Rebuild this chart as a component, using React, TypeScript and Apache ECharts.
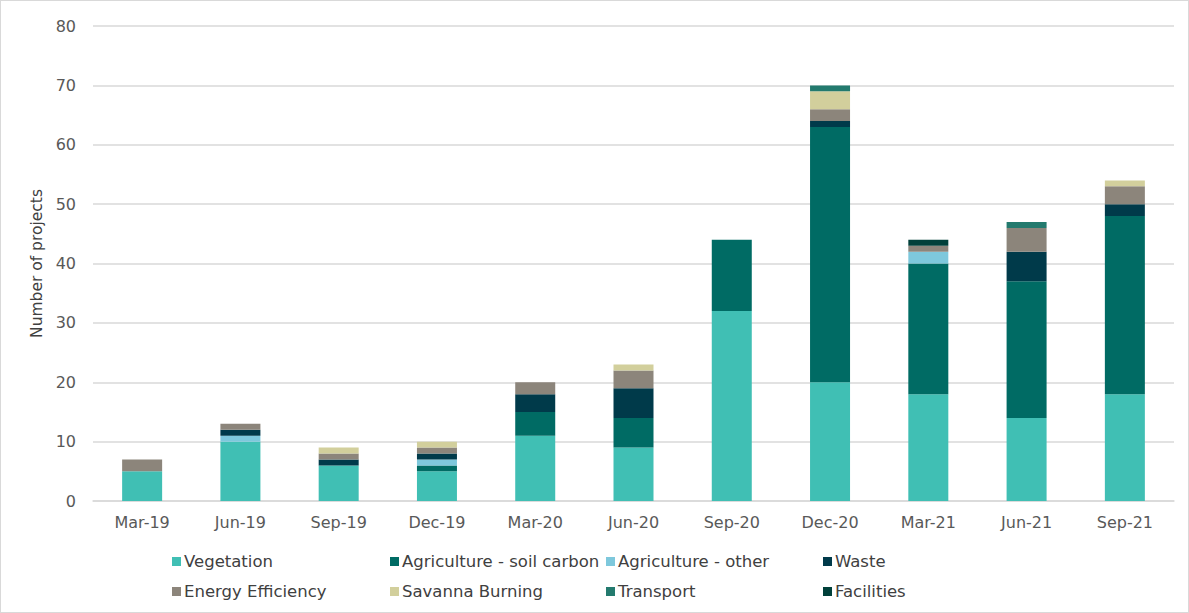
import React, { useEffect, useRef } from "react";
import * as echarts from "echarts";

const categories = ["Mar-19", "Jun-19", "Sep-19", "Dec-19", "Mar-20", "Jun-20", "Sep-20", "Dec-20", "Mar-21", "Jun-21", "Sep-21"];
const vegetation = [5, 10, 6, 5, 11, 9, 32, 20, 18, 14, 18];
const agSoil = [0, 0, 0, 1, 4, 5, 12, 43, 22, 23, 30];
const agOther = [0, 1, 0, 1, 0, 0, 0, 0, 2, 0, 0];
const waste = [0, 1, 1, 1, 3, 5, 0, 1, 0, 5, 2];
const energyEff = [2, 1, 1, 1, 2, 3, 0, 2, 1, 4, 3];
const savanna = [0, 0, 1, 1, 0, 1, 0, 3, 0, 0, 1];
const transport = [0, 0, 0, 0, 0, 0, 0, 1, 0, 1, 0];
const facilities = [0, 0, 0, 0, 0, 0, 0, 0, 1, 0, 0];
const yTicks = [0, 10, 20, 30, 40, 50, 60, 70, 80];

const seriesDefs = [
  { name: "Vegetation", data: vegetation, color: "#40BFB4" },
  { name: "Agriculture - soil carbon", data: agSoil, color: "#006B64" },
  { name: "Agriculture - other", data: agOther, color: "#7EC8DC" },
  { name: "Waste", data: waste, color: "#003A4A" },
  { name: "Energy Efficiency", data: energyEff, color: "#8C857B" },
  { name: "Savanna Burning", data: savanna, color: "#D2CF9C" },
  { name: "Transport", data: transport, color: "#237A6E" },
  { name: "Facilities", data: facilities, color: "#00403A" },
];

const legendPos = [
  [166, 547], [384, 547], [600, 547], [817, 547],
  [166, 577], [384, 577], [600, 577], [817, 577],
];

export default function App() {
  const ref = useRef<HTMLDivElement>(null);
  useEffect(() => {
    const chart = echarts.init(ref.current!, undefined, { renderer: "svg" });
    const font = "DejaVu Sans";
    chart.setOption({
      animation: false,
      textStyle: { fontFamily: font },
      grid: { left: 92, right: 14, top: 25, bottom: 111 },
      legend: seriesDefs.map((s, i) => ({
        data: [s.name],
        left: legendPos[i][0],
        top: legendPos[i][1],
        itemWidth: 9,
        itemHeight: 9,
        icon: "rect",
        itemGap: 4,
        textStyle: { fontFamily: font, fontSize: 16.5, color: "#404040", padding: [0, 0, 0, -2] },
      })),
      xAxis: {
        type: "category",
        data: categories,
        axisLine: { lineStyle: { color: "#d9d9d9", width: 1.5 } },
        axisTick: { show: false },
        axisLabel: { color: "#595959", fontSize: 16, fontFamily: font, margin: 13 },
      },
      yAxis: {
        type: "value",
        min: 0,
        max: 80,
        interval: 10,
        name: "Number of projects",
        nameLocation: "middle",
        nameGap: 45,
        nameTextStyle: { color: "#404040", fontSize: 15.5, fontFamily: font },
        axisLine: { show: false },
        axisTick: { show: false },
        splitLine: { lineStyle: { color: "#d9d9d9", width: 1.5 } },
        axisLabel: { color: "#595959", fontSize: 16, fontFamily: font, margin: 17 },
      },
      series: seriesDefs.map((s) => ({
        name: s.name,
        type: "bar",
        stack: "total",
        barWidth: 40,
        data: s.data,
        itemStyle: { color: s.color },
      })),
    });
    return () => chart.dispose();
  }, []);
  return (
    <div
      style={{
        position: "absolute",
        left: 0,
        top: 0,
        width: 1189,
        height: 613,
        boxSizing: "border-box",
        border: "1px solid #d9d9d9",
        background: "#fff",
      }}
    >
      <div ref={ref} style={{ width: 1187, height: 611 }} />
    </div>
  );
}
